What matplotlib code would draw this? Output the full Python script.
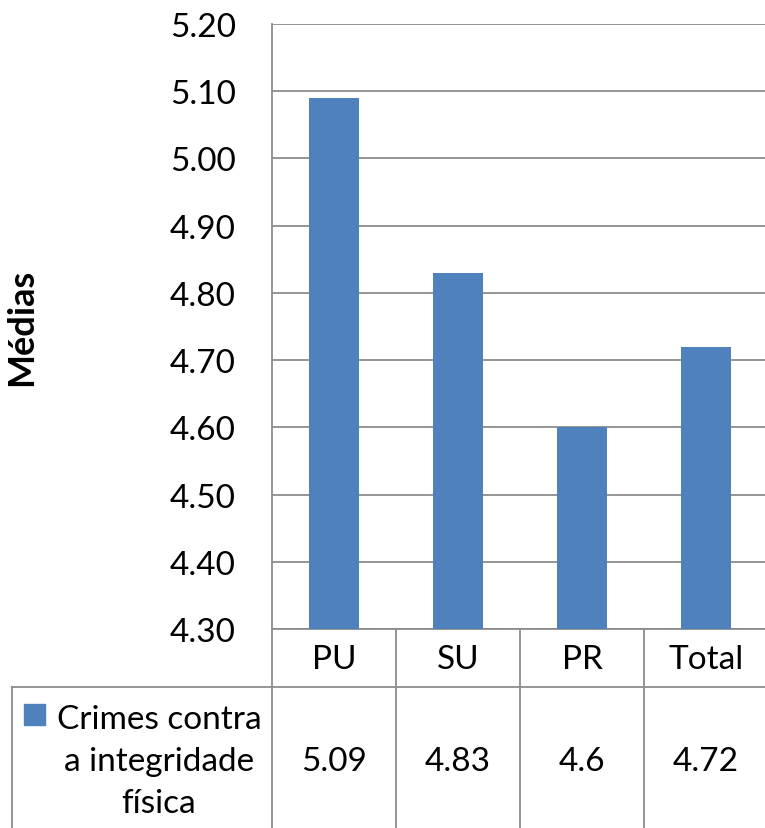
import matplotlib.pyplot as plt
from matplotlib.patches import Rectangle
from matplotlib.lines import Line2D

# dados
categorias = ['PU', 'SU', 'PR', 'Total']
medias = [5.09, 4.83, 4.6, 4.72]
rotulos_tabela = ['5.09', '4.83', '4.6', '4.72']
serie = 'Crimes contra\na integridade\nfísica'
yticks = [4.30, 4.40, 4.50, 4.60, 4.70, 4.80, 4.90, 5.00, 5.10, 5.20]

plt.rcParams['font.family'] = ['Lato', 'DejaVu Sans']

W, H = 765, 829
fig = plt.figure(figsize=(W / 100, H / 100), dpi=100)
cinza = '#8c8c8c'
azul = '#4f81bd'
fs = 24

# área do gráfico (px -> fração da figura)
x0, x1, y_top, y_bot = 272, 768, 25, 630
ax = fig.add_axes([x0 / W, 1 - y_bot / H, (x1 - x0) / W, (y_bot - y_top) / H])

x = list(range(len(categorias)))
ax.bar(x, medias, width=0.4, color=azul, zorder=3)
ax.set_xlim(-0.5, len(categorias) - 0.5)
ax.set_ylim(4.30, 5.20)
ax.set_yticks(yticks)
ax.set_yticklabels([f'{v:.2f}' for v in yticks], fontsize=fs)
ax.tick_params(axis='y', length=0, pad=26)
ax.set_xticks([])
ax.grid(axis='y', color=cinza, lw=1.3, zorder=0)
for s in ['top', 'right']:
    ax.spines[s].set_visible(False)
ax.spines['left'].set_color(cinza)
ax.spines['left'].set_linewidth(1.3)
ax.spines['bottom'].set_color(cinza)
ax.spines['bottom'].set_linewidth(1.3)
ax.set_ylabel('Médias', fontsize=26, fontweight='bold')
ax.yaxis.set_label_coords(-0.472, 0.5)

# tabela de dados
ah = y_bot - y_top
row1 = -(688 - y_bot) / ah
fundo = -(H - y_bot + 5) / ah
cw = (x1 - x0) / len(categorias)
x_esq = -0.5 - (x0 - 12) / cw
tr = ax.get_xaxis_transform()
lk = dict(color=cinza, lw=1.3, clip_on=False, transform=tr)
ax.add_line(Line2D([x_esq, len(categorias)], [row1, row1], **lk))
ax.add_line(Line2D([x_esq, x_esq], [row1, fundo], **lk))
for i in range(len(categorias)):
    ax.add_line(Line2D([i - 0.5, i - 0.5], [0, fundo], **lk))

for i, (c, v) in enumerate(zip(categorias, rotulos_tabela)):
    ax.text(i, -(660 - y_bot) / ah, c, transform=tr, ha='center', va='center', fontsize=fs)
    ax.text(i, -(762 - y_bot) / ah, v, transform=tr, ha='center', va='center', fontsize=fs)

xc = -0.5 - (x0 - 159) / cw
ax.text(xc, -(762 - y_bot) / ah, serie, transform=tr, ha='center', va='center',
        fontsize=fs, linespacing=1.5, multialignment='center')
fig.add_artist(Rectangle((24 / W, 1 - 726 / H), 21 / W, 21 / H, color=azul,
                         transform=fig.transFigure))

fig.savefig('out.png', dpi=100)
